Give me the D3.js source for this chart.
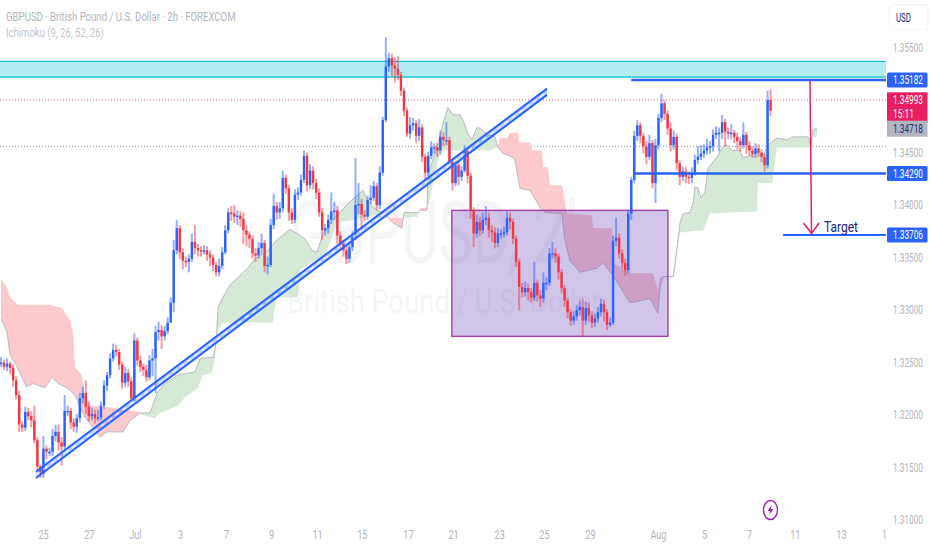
<!DOCTYPE html>
<html><head><meta charset="utf-8">
<script src="https://cdn.jsdelivr.net/npm/d3@7"></script>
<style>html,body{margin:0;padding:0;background:#fff;overflow:hidden}svg{display:block;font-family:Roboto,"Liberation Sans",sans-serif}</style>
</head><body><svg id="c" width="932" height="550"></svg>
<script>
// All prices are in 1/10000 units (13249 = 1.3249)
const closes=[13249,13245,13248,13244,13232,13218,13190,13187,13202,13198,
13194,13175,13150,13143,13167,13164,13164,13179,13183,13173,
13169,13203,13203,13192,13188,13196,13215,13220,13207,13198,
13200,13196,13197,13208,13227,13237,13253,13261,13259,13247,
13230,13239,13231,13215,13270,13251,13245,13242,13235,13251,
13253,13278,13280,13274,13279,13287,13306,13356,13377,13354,
13346,13345,13348,13364,13358,13356,13355,13356,13352,13349,
13342,13335,13341,13354,13375,13392,13391,13388,13389,13386,
13375,13371,13367,13353,13351,13358,13363,13341,13342,13380,
13398,13392,13396,13425,13415,13392,13385,13409,13411,13423,
13446,13418,13432,13420,13411,13392,13375,13377,13385,13393,
13394,13370,13362,13356,13348,13359,13369,13399,13400,13390,
13388,13404,13406,13417,13399,13430,13480,13531,13539,13532,
13529,13523,13508,13489,13467,13475,13477,13465,13473,13445,
13430,13446,13454,13454,13451,13464,13461,13461,13440,13420,
13437,13426,13432,13451,13427,13394,13372,13383,13375,13385,
13387,13375,13373,13363,13372,13372,13373,13387,13383,13367,
13345,13321,13316,13320,13316,13311,13325,13313,13310,13325,
13325,13353,13353,13350,13335,13320,13308,13297,13289,13293,
13299,13302,13289,13301,13294,13287,13291,13297,13305,13297,
13285,13287,13365,13368,13353,13344,13337,13391,13423,13465,
13475,13465,13455,13445,13458,13420,13456,13482,13496,13486,
13472,13456,13464,13439,13426,13431,13426,13425,13430,13442,
13445,13448,13451,13454,13455,13466,13468,13468,13478,13469,
13467,13468,13464,13460,13456,13466,13456,13451,13448,13453,
13449,13445,13437,13499,13489];
const highs=[13254,13252,13253,13250,13247,13236,13222,13193,13207,13206,
13203,13208,13178,13152,13179,13170,13168,13186,13190,13190,
13178,13218,13208,13206,13196,13200,13220,13226,13232,13212,
13206,13204,13204,13212,13232,13240,13258,13267,13266,13262,
13250,13245,13243,13235,13277,13273,13256,13248,13247,13256,
13262,13284,13288,13285,13284,13292,13311,13366,13385,13380,
13358,13350,13352,13372,13380,13362,13360,13361,13360,13356,
13352,13345,13348,13359,13380,13396,13398,13399,13394,13393,
13392,13380,13374,13370,13358,13364,13372,13366,13350,13386,
13410,13402,13402,13432,13428,13418,13396,13414,13416,13428,
13451,13449,13438,13436,13424,13415,13396,13381,13390,13411,
13402,13398,13374,13366,13360,13364,13374,13444,13420,13405,
13394,13408,13418,13422,13420,13436,13483,13559,13544,13543,
13540,13541,13526,13511,13492,13483,13482,13480,13481,13476,
13448,13450,13460,13458,13458,13470,13468,13478,13464,13443,
13441,13440,13436,13456,13454,13430,13397,13390,13388,13392,
13398,13392,13380,13378,13377,13376,13378,13393,13392,13386,
13370,13348,13325,13326,13324,13320,13345,13328,13318,13335,
13330,13358,13364,13358,13353,13338,13323,13311,13300,13298,
13304,13308,13310,13307,13306,13298,13296,13302,13310,13309,
13300,13292,13370,13387,13372,13357,13348,13394,13426,13470,
13480,13478,13468,13460,13466,13461,13462,13486,13505,13499,
13489,13478,13470,13467,13442,13436,13435,13431,13435,13447,
13455,13456,13457,13462,13460,13471,13474,13473,13485,13481,
13473,13476,13471,13468,13464,13478,13469,13460,13455,13458,
13457,13452,13448,13508,13509];
const lows=[13245,13242,13241,13238,13226,13214,13183,13183,13184,13194,
13187,13172,13146,13139,13139,13157,13160,13160,13174,13165,
13151,13166,13198,13186,13183,13182,13192,13210,13200,13193,
13194,13191,13193,13194,13205,13222,13234,13250,13255,13242,
13224,13226,13226,13212,13212,13246,13240,13236,13231,13232,
13236,13220,13270,13262,13270,13276,13297,13297,13352,13348,
13338,13340,13335,13345,13352,13350,13350,13352,13346,13341,
13336,13331,13331,13338,13352,13372,13384,13382,13380,13378,
13362,13360,13358,13348,13345,13348,13352,13335,13333,13340,
13376,13385,13386,13392,13410,13384,13381,13382,13404,13408,
13420,13412,13414,13414,13405,13388,13366,13370,13372,13381,
13385,13362,13358,13350,13343,13344,13355,13366,13390,13375,
13384,13385,13400,13403,13394,13395,13427,13478,13526,13522,
13516,13518,13503,13484,13464,13462,13470,13458,13460,13440,
13424,13427,13443,13448,13445,13447,13455,13456,13435,13413,
13417,13418,13422,13430,13420,13386,13359,13368,13370,13372,
13380,13368,13364,13358,13359,13367,13368,13370,13376,13362,
13340,13299,13311,13312,13308,13306,13308,13307,13302,13306,
13318,13322,13348,13344,13328,13315,13302,13291,13284,13285,
13289,13294,13274,13285,13288,13282,13283,13287,13293,13288,
13280,13283,13285,13360,13348,13339,13332,13334,13385,13420,
13460,13458,13448,13438,13442,13415,13401,13452,13478,13480,
13466,13450,13452,13432,13418,13422,13420,13419,13420,13427,
13438,13442,13444,13447,13448,13450,13462,13450,13462,13455,
13462,13462,13458,13452,13450,13453,13448,13446,13444,13444,
13445,13440,13431,13434,13484];

// Ichimoku leading spans, read at the bars where they change
const spanABars=[0,2,3,5.3,8.3,10.6,14.5,16.8,18.8,21.8,24.4,27.7,31,32.7,35,40.3,42.6,45.9,49.2,51.5,54.1,58.4,64,65.7,70,71,71.6,73,75.6,78.2,81.5,83.8,87.1,91.1,95.4,97.7,100.3,102.6,104.3,106.3,110.2,115.8,119.5,121.1,124.1,126.7,129,132.3,133,137.6,138.3,140.6,140.9,144.2,146.5,147.5,149.2,151.5,152.5,154.1,155.4,157.1,158.1,160.4,163,164,165.7,168,169.6,171.3,174.6,177.9,179.5,185.1,186.1,187.8,191.1,196.7,198.7,202,207.6,214.2,216.8,217.5,218.5,221.8,222.4,224.1,225.1,227.4,228.4,229,230,231,232.3,233.3,236.6,238,239.6,241.3,243.9,244.9,247.2,249.5,251.5,253.1,256.1,259.4,261.4,266.3,267.3,268,269.3];
const spanAValues=[13291,13278,13256,13245,13226,13229,13225,13235,13229,13225,13218,13197,13185,13178,13183,13183,13194,13201,13201,13220,13229,13237,13240,13253,13254,13267,13301,13310,13323,13330,13339,13348,13353,13366,13376,13372,13367,13356,13354,13372,13387,13404,13413,13402,13394,13391,13383,13377,13392,13392,13394,13394,13427,13458,13483,13492,13485,13485,13480,13467,13461,13473,13472,13467,13464,13454,13448,13446,13442,13415,13413,13397,13392,13391,13366,13346,13335,13339,13344,13332,13306,13310,13296,13321,13331,13331,13342,13382,13391,13392,13401,13416,13416,13406,13411,13434,13446,13454,13456,13451,13451,13444,13446,13450,13446,13456,13463,13461,13464,13464,13456,13471,13472];
const spanBBars=[0,2,3,5.6,16.2,20.1,22.8,23.8,24.4,26.7,27.7,29.4,34.3,45.9,46.5,50.8,52.5,58.4,60.7,65,66.7,69.6,70.6,71.3,73,89.8,90.1,91.1,98,98.7,102.6,106.9,110.9,122.8,126.7,128.4,133,137.6,138.3,140.9,144.9,161.4,163.7,164.7,167.3,167.7,170.6,171,174.6,175.2,178.5,178.9,180.5,181.2,185.1,186.8,195,195.4,201.7,202,207.6,215.2,216.8,217.5,218.5,222.1,224.1,231.7,234,249.5,249.8,254.5,256.1,267.7,268,269.3];
const spanBValues=[13329,13320,13311,13304,13304,13301,13289,13277,13245,13237,13218,13208,13207,13202,13199,13196,13201,13208,13216,13225,13237,13239,13254,13277,13287,13287,13299,13311,13311,13337,13345,13351,13382,13389,13391,13387,13387,13388,13396,13397,13451,13451,13454,13463,13463,13468,13468,13459,13459,13451,13451,13435,13435,13418,13418,13391,13389,13377,13377,13344,13334,13334,13318,13330,13330,13330,13373,13375,13391,13393,13420,13420,13454,13454,13464,13464];

// Drawings (bars / prices)
const zoneBars=[148.8,220.1];
const zonePrices=[13394,13274];
const bandPrices=[13536,13521];
const trendBars=[11.55,180.2];
const trendUpper=[13145,13510];
const trendLower=[13139,13504];
const level1=13518.2, level1Bar=208;
const level2=13429.0, level2Bar=209;
const level3=13370.6, level3Bar=258.1;
const lastPrice=13499.3, ichiPrice=13471.8, dottedGray=13455;
const arrowBars=[267,267.5], arrowPrices=[13518,13372];
const arrowHead=[[264.9,13382],[267.5,13372],[270,13382]];

// Axis labels
const yTicks=[1.355,1.35,1.345,1.34,1.335,1.33,1.325,1.32,1.315,1.31];
const xTickBars=[13.9,29,44.2,59.1,74.3,89.1,104.3,119.1,134.3,149.2,164.4,179.2,194.4,216.8,232,246.9,262,277.2,291.4];
const xTickLabels=['25','27','Jul','3','7','9','11','15','17','21','23','25','29','Aug','5','7','11','13','1'];

const W=932,H=550,paneR=886,paneB=522;
const x=d3.scaleLinear().domain([0,300]).range([1,910]);
const y=d3.scaleLinear().domain([1.31,1.355]).range([519,46.6]);
const yp=p=>y(p/1e4);
const svg=d3.select('#c');
const defs=svg.append('defs');
defs.append('clipPath').attr('id','pane').append('rect').attr('width',paneR).attr('height',paneB);
// squeeze a text horizontally to the given width, keeping its anchor point
function fit(sel,w){
  sel.each(function(){
    const t=d3.select(this),l=this.getComputedTextLength(),px=+t.attr('x')||0,py=+t.attr('y')||0;
    t.attr('x',null).attr('y',null).attr('transform',`translate(${px},${py}) scale(${w/l},1)`);
  });
  return sel;
}

const chart=svg.append('g').attr('clip-path','url(#pane)');

// watermark
fit(chart.append('text').attr('x',290).attr('y',263).attr('font-size',88).attr('fill','#787b86').attr('opacity',.07).text('GBPUSD, 2h'),307);
fit(chart.append('text').attr('x',287).attr('y',313).attr('font-size',33).attr('fill','#787b86').attr('opacity',.07).text('British Pound / U.S. Dollar'),314);

// band
chart.append('rect').attr('x',0).attr('width',paneR).attr('y',yp(bandPrices[0])).attr('height',yp(bandPrices[1])-yp(bandPrices[0])).attr('fill','#b4ecf4');
chart.append('line').attr('x1',0).attr('x2',paneR).attr('y1',yp(bandPrices[0])).attr('y2',yp(bandPrices[0])).attr('stroke','#22b8cf').attr('stroke-width',1.2);
chart.append('line').attr('x1',0).attr('x2',paneR).attr('y1',yp(bandPrices[1])).attr('y2',yp(bandPrices[1])).attr('stroke','#4dd0e1').attr('stroke-width',2);

// dotted price lines
chart.append('line').attr('x1',0).attr('x2',paneR).attr('y1',yp(lastPrice)).attr('y2',yp(lastPrice)).attr('stroke','#ef5a70').attr('stroke-width',1).attr('stroke-dasharray','1 2');
chart.append('line').attr('x1',0).attr('x2',paneR).attr('y1',yp(dottedGray)).attr('y2',yp(dottedGray)).attr('stroke','#9f8fae').attr('stroke-width',1).attr('stroke-dasharray','1 2');

// cloud
const fa=d3.scaleLinear().domain(spanABars).range(spanAValues);
const fb=d3.scaleLinear().domain(spanBBars).range(spanBValues);
const allBars=Array.from(new Set([...spanABars,...spanBBars])).sort((a,b)=>a-b);
const runs=[];let cur=null;
allBars.forEach((b,i)=>{
  const A=fa(b),B=fb(b),s=A>=B;
  if(cur&&cur.s!==s){
    const p=allBars[i-1],d0=fa(p)-fb(p),d1=A-B,t=d0/(d0-d1),bc=p+(b-p)*t,v=fa(bc);
    cur.pts.push({b:bc,A:v,B:v});
    runs.push(cur);cur={s,pts:[{b:bc,A:v,B:v}]};
  }
  if(!cur)cur={s,pts:[]};
  cur.pts.push({b,A,B});
});
runs.push(cur);
const area=d3.area().x(d=>x(d.b)).y0(d=>yp(d.A)).y1(d=>yp(d.B));
chart.append('g').selectAll('path').data(runs).join('path')
  .attr('d',d=>area(d.pts)).attr('fill',d=>d.s?'#d5e9d6':'#fcc9cd');
const lineA=d3.line().x((d,i)=>x(spanABars[i])).y(d=>yp(d));
chart.append('path').attr('d',lineA(spanAValues)).attr('fill','none').attr('stroke','#b9bbc2').attr('stroke-width',1);

// zone rect
chart.append('rect').attr('x',x(zoneBars[0])).attr('y',yp(zonePrices[0]))
  .attr('width',x(zoneBars[1])-x(zoneBars[0])).attr('height',yp(zonePrices[1])-yp(zonePrices[0]))
  .attr('fill','rgba(103,58,183,.3)').attr('stroke','#a63ca8').attr('stroke-width',1.4);

// candles
const bars=closes.map((c,i)=>({i,o:i?closes[i-1]:c,c,h:highs[i],l:lows[i]}));
const col=d=>d.c>=d.o?'#2962ff':'#f23645';
const cg=chart.append('g');
cg.selectAll('.w').data(bars).join('line').attr('class','w')
  .attr('x1',d=>x(d.i)).attr('x2',d=>x(d.i)).attr('y1',d=>yp(d.h)).attr('y2',d=>yp(d.l))
  .attr('stroke',col).attr('stroke-opacity',.5).attr('stroke-width',2);
cg.selectAll('.b').data(bars).join('rect').attr('class','b')
  .attr('x',d=>x(d.i)-1.2).attr('width',2.4)
  .attr('y',d=>yp(Math.max(d.o,d.c))).attr('height',d=>Math.max(1.5,Math.abs(yp(d.o)-yp(d.c))))
  .attr('fill',col);

// trend channel
const tx=trendBars.map(x);
chart.append('path').attr('d',`M${tx[0]},${yp(trendUpper[0])}L${tx[1]},${yp(trendUpper[1])}L${tx[1]},${yp(trendLower[1])}L${tx[0]},${yp(trendLower[0])}Z`).attr('fill','rgba(41,98,255,.3)');
[trendUpper,trendLower].forEach(t=>chart.append('line').attr('x1',tx[0]).attr('x2',tx[1]).attr('y1',yp(t[0])).attr('y2',yp(t[1])).attr('stroke','#2962ff').attr('stroke-width',2));
chart.append('line').attr('x1',tx[0]).attr('x2',tx[1]).attr('y1',yp((trendUpper[0]+trendLower[0])/2)).attr('y2',yp((trendUpper[1]+trendLower[1])/2)).attr('stroke','#fff').attr('stroke-opacity',.8).attr('stroke-width',1.2).attr('stroke-dasharray','5 4');

// levels
[[level1,level1Bar,2.5],[level2,level2Bar,2.5],[level3,level3Bar,2]].forEach(l=>
  chart.append('line').attr('x1',x(l[1])).attr('x2',paneR).attr('y1',yp(l[0])).attr('y2',yp(l[0])).attr('stroke','#2962ff').attr('stroke-width',l[2]));

// arrow
const al=d3.line().x(d=>x(d[0])).y(d=>yp(d[1]));
chart.append('line').attr('x1',x(arrowBars[0])).attr('x2',x(arrowBars[1])).attr('y1',yp(arrowPrices[0])).attr('y2',yp(arrowPrices[1])).attr('stroke','#e91e63').attr('stroke-width',1.5);
chart.append('path').attr('d',al(arrowHead)).attr('fill','none').attr('stroke','#e91e63').attr('stroke-width',1.5);
fit(chart.append('text').attr('x',824).attr('y',232).attr('font-size',15).attr('fill','#1a237e').text('Target'),34);

// header
fit(svg.append('text').attr('x',6).attr('y',21).attr('font-size',13).attr('fill','#b2b5be').text('GBPUSD · British Pound / U.S. Dollar · 2h · FOREXCOM'),230);
fit(svg.append('text').attr('x',6).attr('y',37).attr('font-size',13).attr('fill','#c4c6ce').text('Ichimoku (9, 26, 52, 26)'),98);

// axes
const yAxis=d3.axisRight(y).tickValues(yTicks).tickSize(0).tickPadding(0).tickFormat(d3.format('.5f'));
const ya=svg.append('g').attr('transform','translate(893,1)').call(yAxis);
ya.select('.domain').remove();
ya.selectAll('text').attr('font-size',12).attr('font-family','Roboto').attr('fill','#b2b5be').attr('x',null).attr('dy','.32em')
  .each(function(){d3.select(this).attr('transform',`scale(${30/this.getComputedTextLength()},1)`);});

const xAxis=d3.axisBottom(x).tickValues(xTickBars).tickSize(0).tickPadding(0).tickFormat((d,i)=>xTickLabels[i]);
const xa=svg.append('g').attr('transform','translate(0,530)').call(xAxis);
xa.select('.domain').remove();
xa.selectAll('text').attr('font-size',12).attr('font-family','Roboto').attr('fill','#b2b5be').attr('transform','scale(.76,1)');

// USD button
svg.append('rect').attr('x',889).attr('y',4.5).attr('width',39).attr('height',25).attr('rx',4).attr('fill','#fff').attr('stroke','#eeeff2');
fit(svg.append('text').attr('x',896).attr('y',22).attr('font-size',13).attr('fill','#1e2a78').text('USD'),15);

// price tags
const tags=[
 {p:level1,bg:'#2962ff',fg:'#fff',t:'1.35182',h:15},
 {p:level2,bg:'#2962ff',fg:'#fff',t:'1.34290',h:15},
 {p:level3,bg:'#2962ff',fg:'#fff',t:'1.33706',h:15}];
tags.forEach(d=>{
  const c=yp(d.p);
  svg.append('rect').attr('x',887).attr('y',c-d.h/2).attr('width',40.5).attr('height',d.h).attr('rx',1.5).attr('fill',d.bg);
  fit(svg.append('text').attr('x',893).attr('y',c+4.5).attr('font-size',12).attr('fill',d.fg).text(d.t),30);
});
const ly=yp(lastPrice), iy=yp(ichiPrice);
svg.append('rect').attr('x',887).attr('y',ly-7.5).attr('width',40.5).attr('height',30.5).attr('fill','#e91e63');
fit(svg.append('text').attr('x',893).attr('y',ly+4.5).attr('font-size',12).attr('fill','#fff').text('1.34993'),30);
fit(svg.append('text').attr('x',893).attr('y',ly+18.5).attr('font-size',12).attr('fill','#fff').text('15:11'),21);
svg.append('rect').attr('x',887).attr('y',iy-8).attr('width',40.5).attr('height',16).attr('fill','#b2b5be');
fit(svg.append('text').attr('x',893).attr('y',iy+4.5).attr('font-size',12).attr('fill','#1e2a78').text('1.34718'),30);

// lightning badge
const bolt=svg.append('g').attr('transform','translate(770.5,510)');
bolt.append('ellipse').attr('rx',7).attr('ry',9.5).attr('fill','#fff').attr('stroke','#9c27b0').attr('stroke-width',1.4);
bolt.append('path').attr('d','M1.2,-5 L-3,1 L-0.3,1 L-1.4,5 L3,-1 L0.3,-1 Z').attr('fill','#9c27b0');
</script></body></html>
